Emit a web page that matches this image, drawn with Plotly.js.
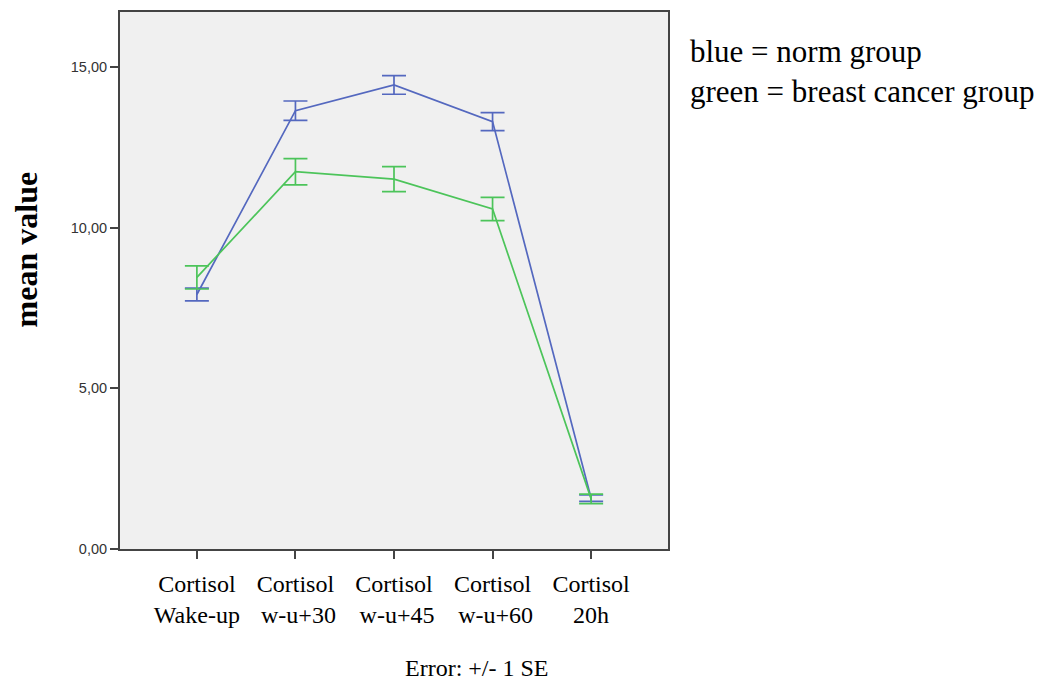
<!DOCTYPE html>
<html>
<head>
<meta charset="utf-8">
<script src="https://cdn.plot.ly/plotly-3.0.1.min.js"></script>
<style>html,body{margin:0;padding:0;background:#fff;}#chart{width:1049px;height:681px;}</style>
</head>
<body>
<div id="chart"></div>
<script>
// Data
const categories = ["Cortisol<br>Wake-up", "Cortisol<br> w-u+30", "Cortisol<br> w-u+45", "Cortisol<br> w-u+60", "Cortisol<br>20h"];
const normMean = [7.92, 13.64, 14.44, 13.30, 1.58];
const normSE = [0.20, 0.30, 0.29, 0.28, 0.10];
const cancerMean = [8.45, 11.74, 11.51, 10.58, 1.56];
const cancerSE = [0.36, 0.41, 0.39, 0.36, 0.15];
const yTickVals = [0, 5, 10, 15];
const yTickText = ["0,00", "5,00", "10,00", "15,00"];

const xIdx = categories.map((c, i) => i);

const traces = [
  {
    x: xIdx, y: normMean, type: "scatter", mode: "lines",
    line: {color: "#5468bf", width: 1.7},
    error_y: {type: "data", array: normSE, visible: true, color: "#5468bf", thickness: 1.7, width: 12},
    hoverinfo: "skip", showlegend: false
  },
  {
    x: xIdx, y: cancerMean, type: "scatter", mode: "lines",
    line: {color: "#4cc45a", width: 1.7},
    error_y: {type: "data", array: cancerSE, visible: true, color: "#4cc45a", thickness: 1.7, width: 12},
    hoverinfo: "skip", showlegend: false
  }
];

const serif = "Liberation Serif, Times New Roman, serif";

const layout = {
  width: 1049, height: 681,
  margin: {l: 120, r: 381, t: 12, b: 132},
  paper_bgcolor: "#ffffff",
  plot_bgcolor: "#f0f0f0",
  showlegend: false,
  xaxis: {
    range: [-0.78, 4.78],
    tickmode: "array", tickvals: xIdx, ticktext: categories,
    ticks: "outside", ticklen: 8, tickwidth: 2, tickcolor: "#444",
    showline: true, linecolor: "#444", linewidth: 2, mirror: true,
    showgrid: false, zeroline: false,
    tickfont: {family: serif, size: 24, color: "#000"},
    ticklabelstandoff: 4
  },
  yaxis: {
    range: [0, 16.71],
    tickmode: "array", tickvals: yTickVals, ticktext: yTickText,
    ticks: "outside", ticklen: 8, tickwidth: 2, tickcolor: "#444",
    showline: true, linecolor: "#444", linewidth: 2, mirror: true,
    showgrid: false, zeroline: false,
    tickfont: {family: "Liberation Sans, Arial, sans-serif", size: 14.5, color: "#333"}
  },
  annotations: [
    {
      text: "<b>mean value</b>",
      xref: "paper", yref: "paper", x: 0, y: 0.557,
      xanchor: "center", yanchor: "middle", xshift: -94.5,
      textangle: -90, showarrow: false,
      font: {family: serif, size: 32, color: "#000"}
    },
    {
      text: "blue = norm group<br>green = breast cancer group",
      xref: "paper", yref: "paper", x: 1.0, y: 1.0,
      xanchor: "left", yanchor: "middle", xshift: 20, yshift: -59,
      align: "left", showarrow: false,
      font: {family: serif, size: 31, color: "#000"}
    },
    {
      text: "Error: +/- 1 SE",
      xref: "paper", yref: "paper", x: 0.652, y: 0,
      xanchor: "center", yanchor: "middle", yshift: -119,
      showarrow: false,
      font: {family: serif, size: 24, color: "#000"}
    }
  ]
};

Plotly.newPlot("chart", traces, layout, {displayModeBar: false, staticPlot: true});
</script>
</body>
</html>
